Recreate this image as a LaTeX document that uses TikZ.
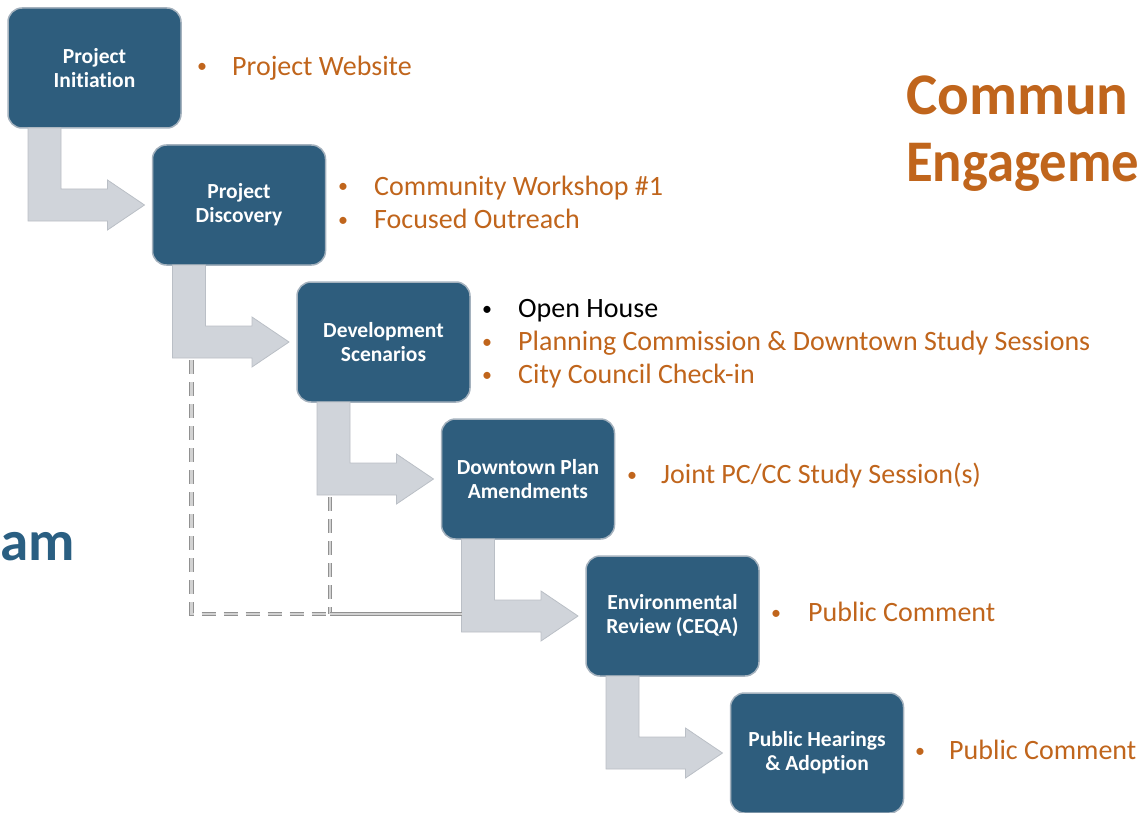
\documentclass[tikz,border=0pt]{standalone}
\usepackage{fontspec}
\setmainfont{Carlito}[Ligatures={NoCommon}]
\usetikzlibrary{calc}

\definecolor{boxblue}{RGB}{46,93,125}
\definecolor{boxedge}{RGB}{165,178,190}
\definecolor{accent}{RGB}{192,101,28}
\definecolor{titleblue}{RGB}{42,95,130}
\definecolor{arrowfill}{RGB}{208,212,218}
\definecolor{arrowedge}{RGB}{186,191,198}
\definecolor{linkgray}{RGB}{145,145,145}
\definecolor{linkfill}{RGB}{210,210,210}

% L-shaped block arrow from the bottom of one step to the side of the next
\newcommand\bentarrow[2]{%
  \path[flowarrow] let \p1=(#1.south west), \p2=(#2.west) in
    (\x1+20pt,\y1) -- (\x1+20pt,\y2-16pt) -- (\x2-45pt,\y2-16pt)
    -- (\x2-45pt,\y2-25pt) -- (\x2-8pt,\y2) -- (\x2-45pt,\y2+25pt)
    -- (\x2-45pt,\y2+16pt) -- (\x1+53pt,\y2+16pt) -- (\x1+53pt,\y1) -- cycle;}

\begin{document}
\begin{tikzpicture}[x=1pt,y=-1pt,
  stepbox/.style={rectangle, rounded corners=14pt, fill=boxblue, draw=boxedge,
    line width=1.5pt, minimum width=173pt, minimum height=120pt, inner sep=0pt,
    outer sep=0pt, align=center, text=white,
    font=\fontsize{21.5}{24}\selectfont\bfseries},
  flowarrow/.style={fill=arrowfill, draw=arrowedge, line width=0.8pt},
  bulletmark/.style={anchor=base, inner sep=0pt, text=accent,
    font=\fontsize{20}{24}\selectfont},
  bullettext/.style={anchor=base west, inner sep=0pt, text=accent,
    font=\fontsize{28}{33}\selectfont},
  link/.style={draw=linkgray, line width=1.1pt, double=linkfill,
    double distance=2.2pt},
  linkdash/.style={link, dash pattern=on 14pt off 8pt},
  headline/.style={anchor=base west, inner sep=0pt, text=accent,
    font=\fontsize{59}{66}\selectfont\bfseries},
]
\useasboundingbox (0,0) rectangle (1145,813);

% steps
\node[stepbox] (b1) at (94.5,68)  {Project\\Initiation};
\node[stepbox] (b2) at (239,205)  {Project\\Discovery};
\node[stepbox] (b3) at (383.5,342) {Development\\Scenarios};
\node[stepbox] (b4) at (528,479)  {Downtown Plan\\Amendments};
\node[stepbox] (b5) at (672.5,616) {Environmental\\Review (CEQA)};
\node[stepbox] (b6) at (817,753)  {Public Hearings\\\& Adoption};

% block arrows between steps
\bentarrow{b1}{b2}
\bentarrow{b2}{b3}
\bentarrow{b3}{b4}
\bentarrow{b4}{b5}
\bentarrow{b5}{b6}

% dashed bypass lines into the CEQA step
\coordinate (d1) at ($(b2.south west |- b3.west)+(39,18)$);
\coordinate (d2) at ($(b3.south west |- b4.west)+(33,18)$);
\coordinate (c1) at ($(d1 |- b5.west)+(0,-2)$);
\coordinate (c2) at ($(d2 |- b5.west)+(0,-2)$);
\coordinate (e)  at ($(b4.west |- b5.west)+(20,-2)$);
\draw[linkdash] (d1) -- (c1) -- (c2);
\draw[linkdash] (d2) -- (c2);
\draw[link] (c2) -- (e);

% engagement items
\node[bulletmark] (m1) at (202,73) {•};
\node[bullettext] (t1) at (232,75.5) {Project Website};

\node[bulletmark] (m2a) at (343,193) {•};
\node[bullettext] (t2a) at (374,195.5) {Community Workshop \#1};
\node[bulletmark] (m2b) at (343,226) {•};
\node[bullettext] (t2b) at (374,228.5) {Focused Outreach};

\node[bulletmark, text=black] (m3a) at (487,315) {•};
\node[bullettext, text=black] (t3a) at (518,317.5) {Open House};
\node[bulletmark] (m3b) at (487,348) {•};
\node[bullettext] (t3b) at (518,350.5) {Planning Commission \& Downtown Study Sessions};
\node[bulletmark] (m3c) at (487,381) {•};
\node[bullettext] (t3c) at (518,383.5) {City Council Check-in};

\node[bulletmark] (m4) at (632,481) {•};
\node[bullettext] (t4) at (661,483.5) {Joint PC/CC Study Session(s)};

\node[bulletmark] (m5) at (776,619) {•};
\node[bullettext] (t5) at (808,621.5) {Public Comment};

\node[bulletmark] (m6) at (920,757) {•};
\node[bullettext] (t6) at (949,759.5) {Public Comment};

% headings
\node[headline] (h1) at (906,115) {Commun};
\node[headline] (h2) at (906,182) {\resizebox{233pt}{\height}{Engageme}};
\node[headline, text=titleblue, font=\fontsize{57}{64}\selectfont\bfseries]
  (h3) at (0,560) {am};
\end{tikzpicture}
\end{document}
